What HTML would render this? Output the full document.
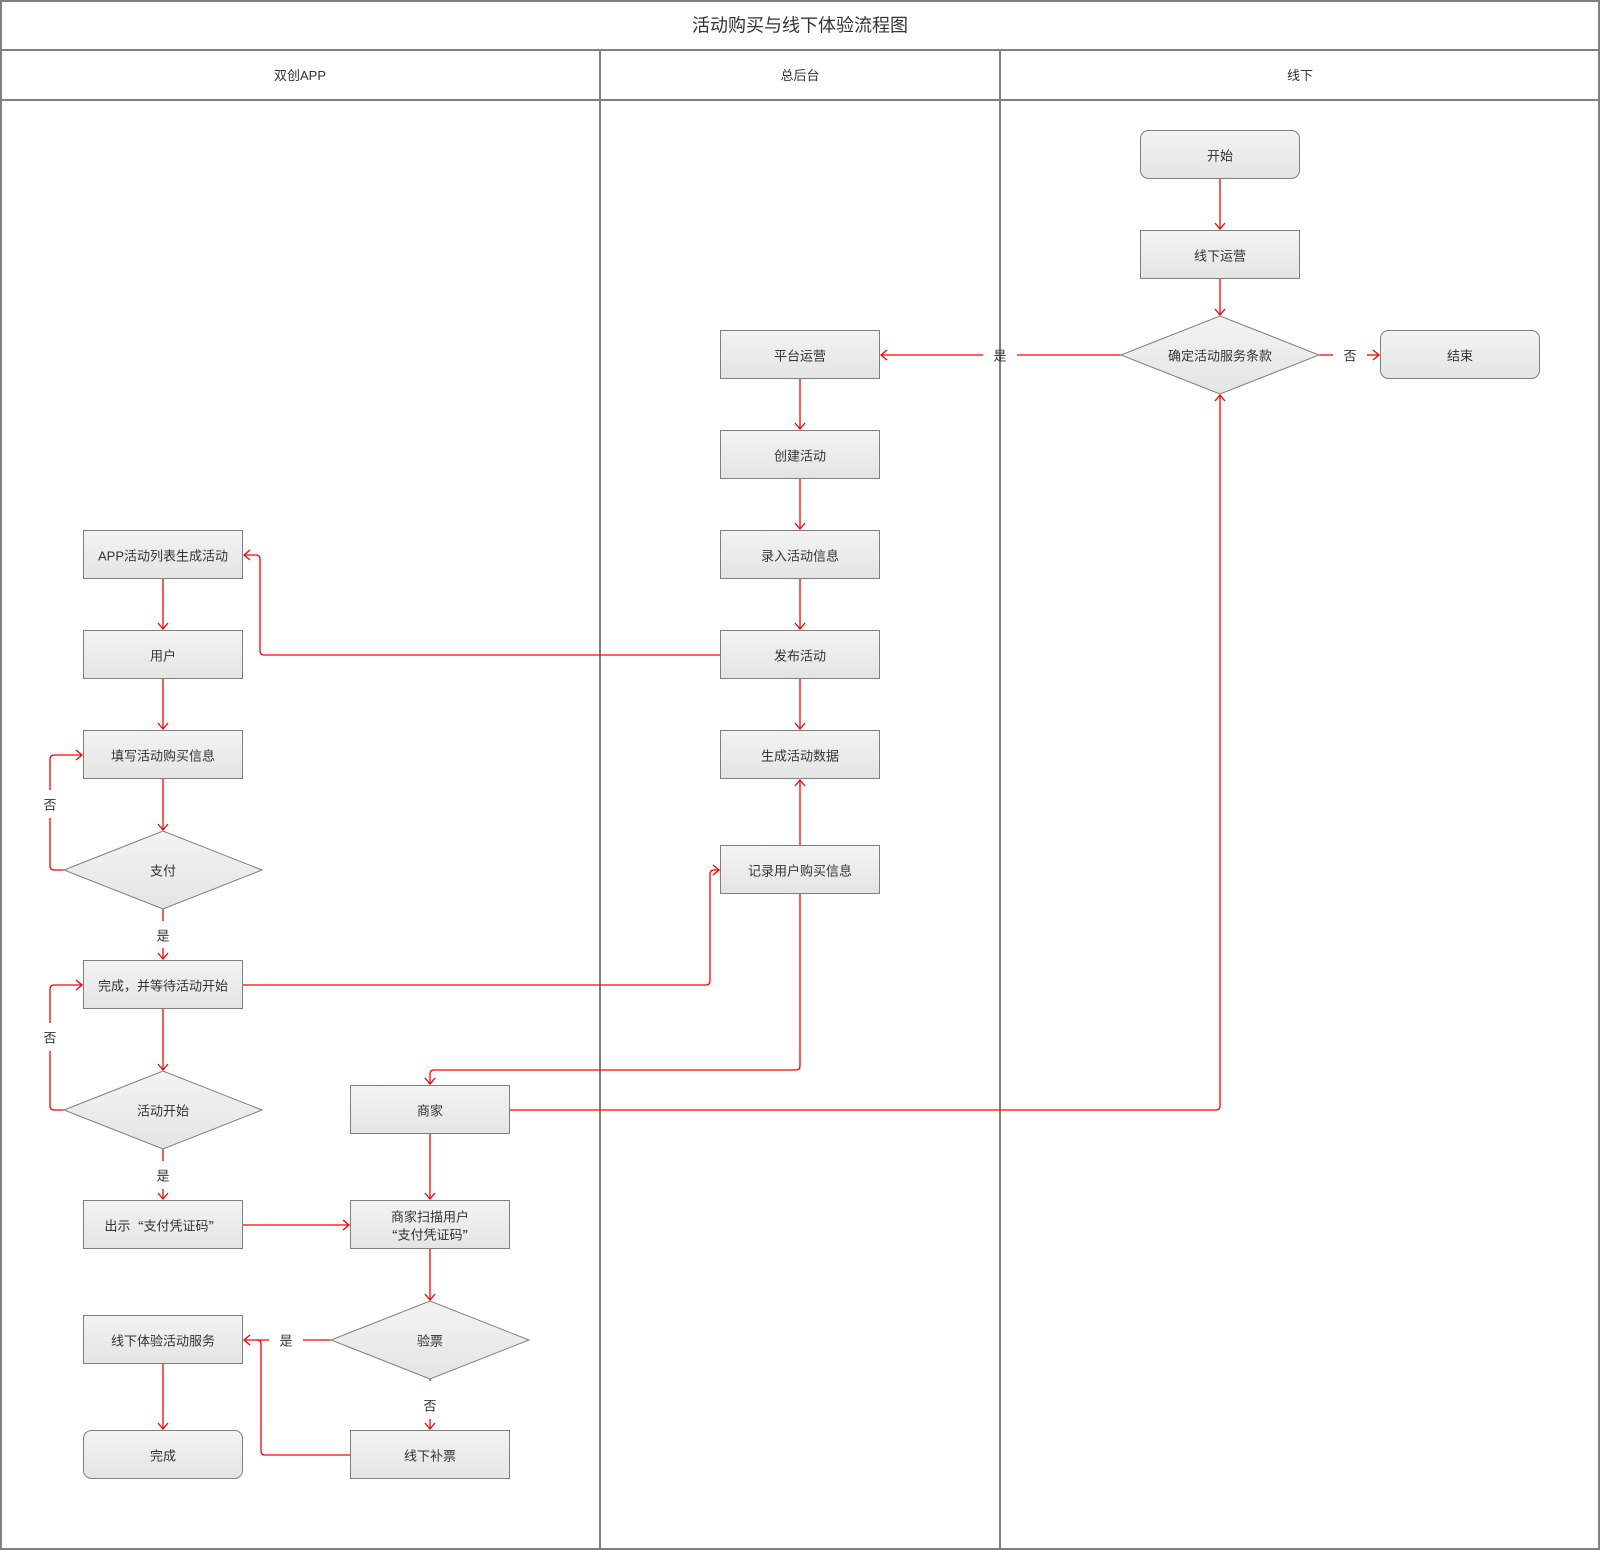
<!DOCTYPE html>
<html>
<head>
<meta charset="utf-8">
<style>
  html,body{margin:0;padding:0;background:#fff;}
  svg{display:block;}
  text{font-family:"Liberation Sans","Noto Sans CJK SC",sans-serif;fill:#333;}
  .q{font-family:"Noto Sans CJK SC",sans-serif;}
</style>
</head>
<body>
<svg width="1600" height="1550" viewBox="0 0 1600 1550" xmlns="http://www.w3.org/2000/svg">
  <defs>
    <linearGradient id="g" x1="0" y1="0" x2="0" y2="1">
      <stop offset="0" stop-color="#f3f3f3"/>
      <stop offset="1" stop-color="#e4e4e4"/>
    </linearGradient>
  </defs>

  <!-- frame -->
  <rect x="1" y="1" width="1598" height="1548" fill="#fff" stroke="#808080" stroke-width="2"/>
  <line x1="0" y1="50" x2="1600" y2="50" stroke="#808080" stroke-width="2"/>
  <line x1="0" y1="100" x2="1600" y2="100" stroke="#808080" stroke-width="2"/>
  <line x1="600" y1="50" x2="600" y2="1550" stroke="#808080" stroke-width="2"/>
  <line x1="1000" y1="50" x2="1000" y2="1550" stroke="#808080" stroke-width="2"/>

  <text x="800" y="25.5" font-size="18" text-anchor="middle" dominant-baseline="central">活动购买与线下体验流程图</text>
  <text x="300" y="75.5" font-size="13" text-anchor="middle" dominant-baseline="central">双创APP</text>
  <text x="800" y="75.5" font-size="13" text-anchor="middle" dominant-baseline="central">总后台</text>
  <text x="1300" y="75.5" font-size="13" text-anchor="middle" dominant-baseline="central">线下</text>

  <!-- connectors -->
  <g fill="none" stroke="#ff0000" stroke-width="1.3">
    <path d="M1220 179 V229"/><path d="M1215 223 L1220 229 L1225 223"/>
    <path d="M1220 279 V315"/><path d="M1215 309 L1220 315 L1225 309"/>
    <path d="M1319 355 H1333"/><path d="M1367 355 H1379"/><path d="M1373 350 L1379 355 L1373 360"/>
    <path d="M1121 355 H1017"/><path d="M983 355 H881"/><path d="M887 350 L881 355 L887 360"/>
    <path d="M800 379 V429"/><path d="M795 423 L800 429 L805 423"/>
    <path d="M800 479 V529"/><path d="M795 523 L800 529 L805 523"/>
    <path d="M800 579 V629"/><path d="M795 623 L800 629 L805 623"/>
    <path d="M800 679 V729"/><path d="M795 723 L800 729 L805 723"/>
    <path d="M800 845 V780"/><path d="M795 786 L800 780 L805 786"/>
    <path d="M720 655 H264 Q260 655 260 651 V559 Q260 555 256 555 H244"/><path d="M250 550 L244 555 L250 560"/>
    <path d="M163 579 V629"/><path d="M158 623 L163 629 L168 623"/>
    <path d="M163 679 V729"/><path d="M158 723 L163 729 L168 723"/>
    <path d="M163 779 V830"/><path d="M158 824 L163 830 L168 824"/>
    <path d="M64 870 H54 Q50 870 50 866 V818"/><path d="M50 790 V759 Q50 755 54 755 H82"/><path d="M76 750 L82 755 L76 760"/>
    <path d="M163 909 V921"/><path d="M163 948 V959"/><path d="M158 953 L163 959 L168 953"/>
    <path d="M163 1009 V1070"/><path d="M158 1064 L163 1070 L168 1064"/>
    <path d="M243 985 H706 Q710 985 710 981 V874 Q710 870 714 870 H719"/><path d="M713 865 L719 870 L713 875"/>
    <path d="M64 1110 H54 Q50 1110 50 1106 V1051"/><path d="M50 1023 V989 Q50 985 54 985 H82"/><path d="M76 980 L82 985 L76 990"/>
    <path d="M163 1149 V1161"/><path d="M163 1189 V1199"/><path d="M158 1193 L163 1199 L168 1193"/>
    <path d="M243 1225 H349"/><path d="M343 1220 L349 1225 L343 1230"/>
    <path d="M800 894 V1066 Q800 1070 796 1070 H434 Q430 1070 430 1074 V1084"/><path d="M425 1078 L430 1084 L435 1078"/>
    <path d="M510 1110 H1216 Q1220 1110 1220 1106 V395"/><path d="M1215 401 L1220 395 L1225 401"/>
    <path d="M430 1134 V1199"/><path d="M425 1193 L430 1199 L435 1193"/>
    <path d="M430 1249 V1300"/><path d="M425 1294 L430 1300 L435 1294"/>
    <path d="M331 1340 H303"/><path d="M269 1340 H244"/><path d="M250 1335 L244 1340 L250 1345"/>
    <path d="M430 1379 V1381"/><path d="M430 1419 V1429"/><path d="M425 1423 L430 1429 L435 1423"/>
    <path d="M350 1455 H265 Q261 1455 261 1451 V1344 Q261 1340 257 1340"/>
    <path d="M163 1364 V1429"/><path d="M158 1423 L163 1429 L168 1423"/>
  </g>

  <!-- connector labels -->
  <g font-size="13" text-anchor="middle" dominant-baseline="central">
    <text x="1350" y="356">否</text>
    <text x="1000" y="356">是</text>
    <text x="50" y="805">否</text>
    <text x="163" y="936">是</text>
    <text x="50" y="1038">否</text>
    <text x="163" y="1176">是</text>
    <text x="286" y="1341">是</text>
    <text x="430" y="1406">否</text>
  </g>

  <!-- nodes -->
  <g fill="url(#g)" stroke="#7f7f7f" stroke-width="1">
    <rect x="1140.5" y="130.5" width="159" height="48" rx="8"/>
    <rect x="1140.5" y="230.5" width="159" height="48"/>
    <rect x="1380.5" y="330.5" width="159" height="48" rx="8"/>
    <polygon points="1121,355 1220,316 1319,355 1220,394"/>

    <rect x="720.5" y="330.5" width="159" height="48"/>
    <rect x="720.5" y="430.5" width="159" height="48"/>
    <rect x="720.5" y="530.5" width="159" height="48"/>
    <rect x="720.5" y="630.5" width="159" height="48"/>
    <rect x="720.5" y="730.5" width="159" height="48"/>
    <rect x="720.5" y="845.5" width="159" height="48"/>

    <rect x="83.5" y="530.5" width="159" height="48"/>
    <rect x="83.5" y="630.5" width="159" height="48"/>
    <rect x="83.5" y="730.5" width="159" height="48"/>
    <polygon points="64,870 163,831 262,870 163,909"/>
    <rect x="83.5" y="960.5" width="159" height="48"/>
    <polygon points="64,1110 163,1071 262,1110 163,1149"/>
    <rect x="83.5" y="1200.5" width="159" height="48"/>
    <rect x="83.5" y="1315.5" width="159" height="48"/>
    <rect x="83.5" y="1430.5" width="159" height="48" rx="8"/>

    <rect x="350.5" y="1085.5" width="159" height="48"/>
    <rect x="350.5" y="1200.5" width="159" height="48"/>
    <polygon points="331,1340 430,1301 529,1340 430,1379"/>
    <rect x="350.5" y="1430.5" width="159" height="48"/>
  </g>

  <!-- node text -->
  <g font-size="13" text-anchor="middle" dominant-baseline="central">
    <text x="1220" y="156">开始</text>
    <text x="1220" y="256">线下运营</text>
    <text x="1460" y="356">结束</text>
    <text x="1220" y="356">确定活动服务条款</text>

    <text x="800" y="356">平台运营</text>
    <text x="800" y="456">创建活动</text>
    <text x="800" y="556">录入活动信息</text>
    <text x="800" y="656">发布活动</text>
    <text x="800" y="756">生成活动数据</text>
    <text x="800" y="871">记录用户购买信息</text>

    <text x="163" y="556">APP活动列表生成活动</text>
    <text x="163" y="656">用户</text>
    <text x="163" y="756">填写活动购买信息</text>
    <text x="163" y="871">支付</text>
    <text x="163" y="986">完成，并等待活动开始</text>
    <text x="163" y="1111">活动开始</text>
    <text x="163" y="1226">出示<tspan class="q">“</tspan>支付凭证码<tspan class="q">”</tspan></text>
    <text x="163" y="1341">线下体验活动服务</text>
    <text x="163" y="1456">完成</text>

    <text x="430" y="1111">商家</text>
    <text x="430" y="1217">商家扫描用户</text>
    <text x="430" y="1235"><tspan class="q">“</tspan>支付凭证码<tspan class="q">”</tspan></text>
    <text x="430" y="1341">验票</text>
    <text x="430" y="1456">线下补票</text>
  </g>
</svg>
</body>
</html>
